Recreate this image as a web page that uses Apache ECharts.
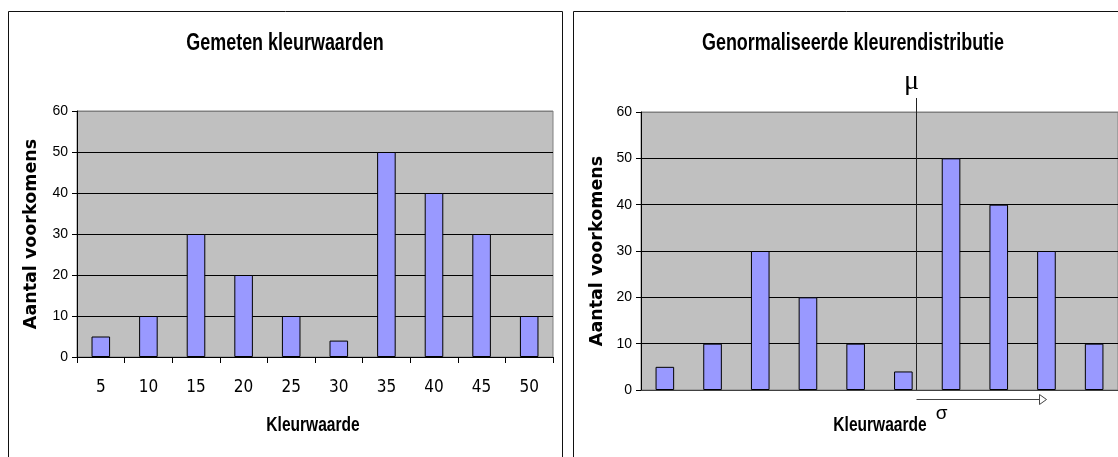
<!DOCTYPE html>
<html>
<head>
<meta charset="utf-8">
<script src="https://cdn.jsdelivr.net/npm/echarts@6/dist/echarts.min.js"></script>
<style>
  html, body { margin: 0; padding: 0; background: #fff; }
  #chart { width: 1118px; height: 457px; }
</style>
</head>
<body>
<div id="chart"></div>
<script>
// Colour values (x) and how often each one was measured (y)
const categories = ['5', '10', '15', '20', '25', '30', '35', '40', '45', '50'];
const counts = [5, 10, 30, 20, 10, 4, 50, 40, 30, 10];

const titles = ['Gemeten kleurwaarden', 'Genormaliseerde kleurendistributie'];
const xName = 'Kleurwaarde';
const yName = 'Aantal voorkomens';

// Where the mean marker and the spread arrow sit, in category units
const muAt = 5.26;
const sigmaEnd = 8.0;

const NARROW = "'Liberation Sans Narrow', 'Arial Narrow', 'DejaVu Sans Condensed', 'Liberation Sans', sans-serif";
const REG = "'Liberation Sans', Arial, sans-serif";
const WIDE_BOLD = "'DejaVu Sans', Verdana, sans-serif";

const chart = echarts.init(document.getElementById('chart'), null, { renderer: 'canvas' });

function yAxisFor(gridIndex, gap) {
  return {
    type: 'value', gridIndex, min: 0, max: 60, interval: 10,
    name: yName, nameLocation: 'middle', nameGap: gap, nameRotate: 90,
    nameTextStyle: { fontFamily: WIDE_BOLD, fontWeight: 'bold', fontSize: 17.5, color: '#000' },
    axisLine: { show: true, lineStyle: { color: '#000', width: 1 } },
    axisTick: { show: true, length: 5, lineStyle: { color: '#000' } },
    axisLabel: { fontFamily: REG, fontSize: 14, color: '#000', margin: 9 },
    splitLine: {
      show: true,
      lineStyle: { color: ['#000', '#000', '#000', '#000', '#000', '#000', '#808080'], width: 1 }
    }
  };
}

const option = {
  animation: false,
  backgroundColor: '#fff',
  grid: [
    { left: 77, top: 111, width: 476, height: 246, show: true,
      backgroundColor: '#c0c0c0', borderColor: '#808080', borderWidth: 1 },
    { left: 641, top: 112, width: 477, height: 278, show: true,
      backgroundColor: '#c0c0c0', borderColor: '#808080', borderWidth: 1 }
  ],
  xAxis: [
    {
      type: 'category', gridIndex: 0, data: categories,
      axisLine: { show: true, lineStyle: { color: '#000', width: 1 } },
      axisTick: { show: true, length: 6, alignWithLabel: false, lineStyle: { color: '#000' } },
      axisLabel: { fontFamily: NARROW, fontSize: 17, color: '#000', margin: 22 },
      splitLine: { show: false }
    },
    {
      type: 'category', gridIndex: 1, data: categories,
      axisLine: { show: true, lineStyle: { color: '#404040', width: 1 } },
      axisTick: { show: false },
      axisLabel: { show: false },
      splitLine: { show: false }
    }
  ],
  yAxis: [yAxisFor(0, 37), yAxisFor(1, 35)],
  series: [0, 1].map(i => ({
    type: 'bar', xAxisIndex: i, yAxisIndex: i, data: counts,
    barWidth: '39%',
    itemStyle: { color: '#9999ff', borderColor: '#000', borderWidth: 1 }
  }))
};

chart.setOption(option);

// Tall, condensed bold text centred on (x, y)
function tallText(text, x, y, size, squeeze) {
  return {
    type: 'text', x, y, scaleX: squeeze, scaleY: 1, z: 100, silent: true,
    style: { text, font: 'bold ' + size + "px 'Liberation Sans', Arial, sans-serif", fill: '#000',
             textAlign: 'center', textVerticalAlign: 'middle' }
  };
}

// Titles, x-axis names, frames, the mean line with its label and the spread arrow
function drawAnnotations() {
  const px = i => chart.convertToPixel({ xAxisIndex: 1 }, i);
  const step = px(1) - px(0);
  const at = v => px(Math.floor(v)) + (v - Math.floor(v)) * step;
  const xMu = Math.round(at(muAt)) + 0.5;
  const xEnd = Math.round(at(sigmaEnd)) + 0.5;
  const yZero = chart.convertToPixel({ yAxisIndex: 1 }, 0);
  const yArrow = yZero + 9.5;

  const g0 = chart.getModel().getComponent('grid', 0).coordinateSystem.getRect();

  chart.setOption({
    graphic: [
      { type: 'rect', shape: { x: 8.5, y: 11.5, width: 554, height: 470 },
        style: { fill: null, stroke: '#111', lineWidth: 1 }, z: 100, silent: true },
      { type: 'rect', shape: { x: 573.5, y: 11.5, width: 570, height: 470 },
        style: { fill: null, stroke: '#111', lineWidth: 1 }, z: 100, silent: true },
      tallText(titles[0], 285, 44, 23, 0.78),
      tallText(titles[1], 853, 44, 23, 0.78),
      tallText(xName, g0.x + g0.width / 2 - 2, 425, 21, 0.74),
      tallText(xName, 880, 425, 21, 0.74),
      { type: 'line', shape: { x1: xMu, y1: 98, x2: xMu, y2: yZero },
        style: { stroke: '#222', lineWidth: 1 }, z: 100, silent: true },
      { type: 'text', x: xMu - 5, y: 82,
        style: { text: 'μ', font: "28px 'Liberation Serif', 'DejaVu Serif', serif", fill: '#000',
                 textAlign: 'center', textVerticalAlign: 'middle' }, z: 100, silent: true },
      { type: 'line', shape: { x1: xMu, y1: yArrow, x2: xEnd - 6, y2: yArrow },
        style: { stroke: '#444', lineWidth: 1 }, z: 100, silent: true },
      { type: 'polygon', shape: { points: [[xEnd - 7, yArrow - 5], [xEnd, yArrow], [xEnd - 7, yArrow + 5]] },
        style: { fill: '#fff', stroke: '#444', lineWidth: 1 }, z: 100, silent: true },
      { type: 'text', x: xMu + 25, y: yArrow + 14,
        style: { text: 'σ', font: "19px 'Liberation Sans', 'DejaVu Sans', sans-serif", fill: '#000',
                 textAlign: 'center', textVerticalAlign: 'middle' }, z: 100, silent: true }
    ]
  });
}

drawAnnotations();
</script>
</body>
</html>
